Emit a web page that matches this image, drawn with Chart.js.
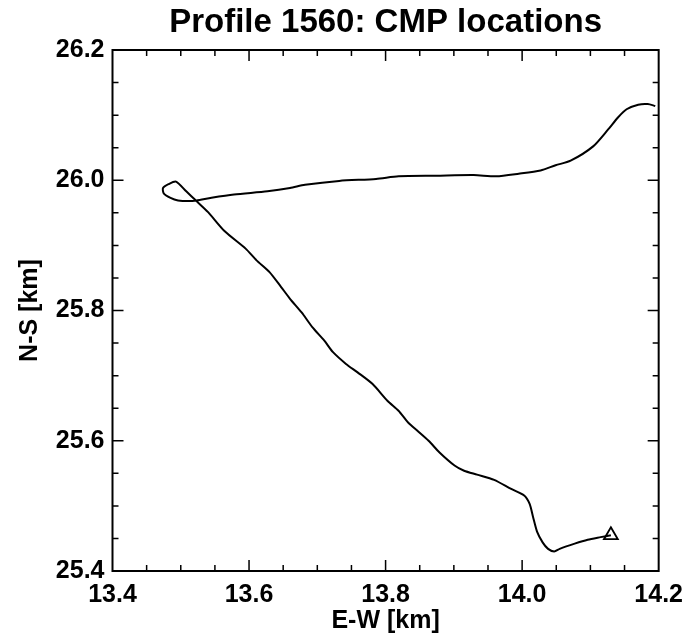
<!DOCTYPE html>
<html>
<head>
<meta charset="utf-8">
<script src="https://cdn.jsdelivr.net/npm/chart.js@4/dist/chart.umd.min.js"></script>
<style>
html,body{margin:0;padding:0;background:#fff;}
#wrap{width:692px;height:636px;}
</style>
</head>
<body>
<div id="wrap"><canvas id="c" width="692" height="636"></canvas></div>
<script>
// CMP track (E-W, N-S in km), starting at the triangle
const ewKm = [14.130,14.115,14.096,14.077,14.055,14.047,14.038,14.030,14.022,14.016,14.011,14.003,13.984,13.959,13.934,13.915,13.901,13.879,13.863,13.847,13.833,13.819,13.803,13.781,13.759,13.742,13.723,13.710,13.693,13.677,13.660,13.647,13.630,13.611,13.595,13.564,13.540,13.523,13.508,13.493,13.482,13.474,13.475,13.485,13.496,13.512,13.523,13.545,13.578,13.627,13.660,13.682,13.732,13.786,13.819,13.874,13.929,13.962,13.995,14.027,14.049,14.071,14.104,14.126,14.140,14.153,14.170,14.184,14.195];
const nsKm = [25.455,25.452,25.448,25.442,25.434,25.430,25.434,25.444,25.460,25.483,25.503,25.516,25.526,25.540,25.548,25.554,25.562,25.582,25.600,25.615,25.628,25.646,25.661,25.687,25.705,25.718,25.736,25.754,25.774,25.797,25.818,25.836,25.859,25.877,25.895,25.922,25.951,25.968,25.983,25.998,25.994,25.988,25.980,25.973,25.969,25.968,25.969,25.973,25.978,25.983,25.988,25.993,25.999,26.002,26.006,26.007,26.008,26.006,26.010,26.015,26.023,26.030,26.052,26.078,26.096,26.109,26.116,26.117,26.114];
const startEW = [14.130];
const startNS = [25.455];
const xTicks = [13.4,13.6,13.8,14.0,14.2];
const yTicks = [25.4,25.6,25.8,26.0,26.2];
const minorStep = 0.05;
const titleText = 'Profile 1560: CMP locations';

const FONT = "'Liberation Sans', Arial, Helvetica, sans-serif";
const track = ewKm.map((x,i)=>({x:x,y:nsKm[i]}));
const start = startEW.map((x,i)=>({x:x,y:startNS[i]}));

const frameTicks = {
  id:'frameTicks',
  afterDraw(chart){
    const {ctx, chartArea:a, scales:{x, y}} = chart;
    ctx.save();
    ctx.strokeStyle='#000';
    ctx.lineWidth=1.5;
    const xmin=xTicks[0], xmax=xTicks[xTicks.length-1];
    const ymin=yTicks[0], ymax=yTicks[yTicks.length-1];
    const nx=Math.round((xmax-xmin)/minorStep), ny=Math.round((ymax-ymin)/minorStep);
    ctx.beginPath();
    for(let i=1;i<nx;i++){
      const v=xmin+i*minorStep; const px=x.getPixelForValue(v);
      const len=(i%4===0)?11:6;
      ctx.moveTo(px,a.bottom); ctx.lineTo(px,a.bottom-len);
      ctx.moveTo(px,a.top); ctx.lineTo(px,a.top+len);
    }
    for(let i=1;i<ny;i++){
      const v=ymin+i*minorStep; const py=y.getPixelForValue(v);
      const len=(i%4===0)?11:6;
      ctx.moveTo(a.left,py); ctx.lineTo(a.left+len,py);
      ctx.moveTo(a.right,py); ctx.lineTo(a.right-len,py);
    }
    ctx.stroke();
    ctx.lineWidth=2;
    ctx.strokeRect(a.left,a.top,a.right-a.left,a.bottom-a.top);
    // title centred over the plot area
    ctx.fillStyle='#000';
    ctx.font="bold 33px "+FONT;
    ctx.textAlign='center';
    ctx.textBaseline='middle';
    ctx.fillText(titleText,(a.left+a.right)/2,23);
    ctx.restore();
  }
};

new Chart(document.getElementById('c'),{
  type:'scatter',
  data:{datasets:[
    {data:track, showLine:true, borderColor:'#000', borderWidth:2, pointRadius:0, tension:0.25, fill:false},
    {data:start, showLine:false, pointStyle:'triangle', pointRadius:8, borderColor:'#000', borderWidth:1.8, backgroundColor:'rgba(0,0,0,0)'}
  ]},
  options:{
    responsive:false, animation:false,
    layout:{padding:{left:0,right:28,top:50,bottom:0}},
    plugins:{legend:{display:false}, tooltip:{enabled:false}, title:{display:false}},
    scales:{
      x:{type:'linear', min:xTicks[0], max:xTicks[xTicks.length-1],
        afterBuildTicks(s){ s.ticks = xTicks.map(v=>({value:v})); },
        afterFit(s){ s.height=65; },
        grid:{display:false, drawTicks:false}, border:{display:false},
        ticks:{color:'#000', padding:9, maxRotation:0, autoSkip:false,
          font:{family:FONT, size:25, weight:'bold'}, callback:v=>Number(v).toFixed(1)},
        title:{display:true, text:'E-W [km]', color:'#000', padding:{top:0,bottom:0},
          font:{family:FONT, size:25, weight:'bold', lineHeight:1.2}}
      },
      y:{type:'linear', min:yTicks[0], max:yTicks[yTicks.length-1],
        afterBuildTicks(s){ s.ticks = yTicks.map(v=>({value:v})); },
        afterFit(s){ s.width=112.5; },
        grid:{display:false, drawTicks:false}, border:{display:false},
        ticks:{color:'#000', padding:8, autoSkip:false,
          font:{family:FONT, size:25, weight:'bold'}, callback:v=>Number(v).toFixed(1)},
        title:{display:true, text:'N-S [km]', color:'#000', padding:{top:15,bottom:0},
          font:{family:FONT, size:25, weight:'bold', lineHeight:1.2}}
      }
    }
  },
  plugins:[frameTicks]
});
</script>
</body>
</html>
